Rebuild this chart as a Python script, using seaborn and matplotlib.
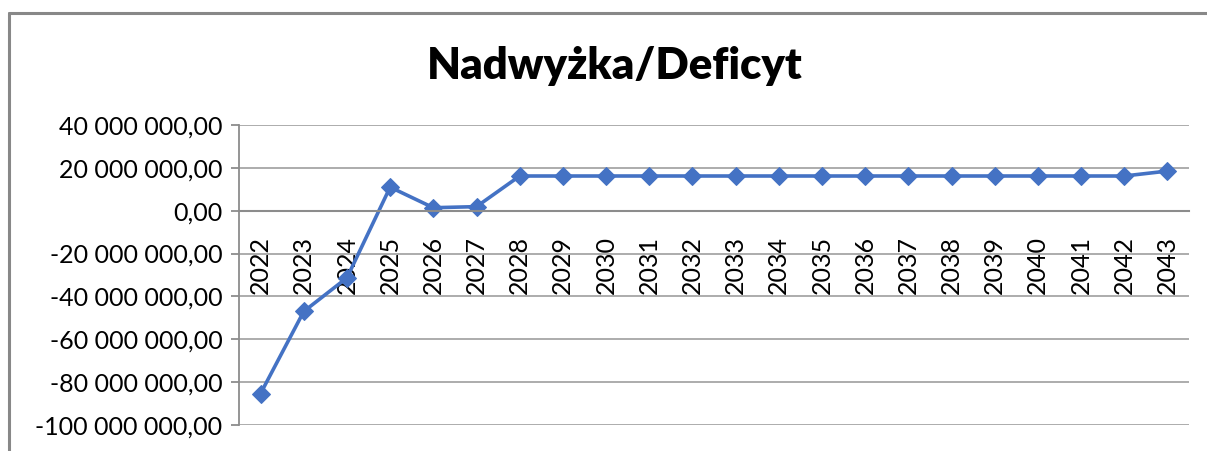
import matplotlib.pyplot as plt
import matplotlib as mpl
from matplotlib.lines import Line2D
from matplotlib.ticker import FuncFormatter
import numpy as np
import seaborn as sns

years = [str(y) for y in range(2022, 2044)]
values = [-85.3e6, -47.0e6, -31.3e6, 11.0e6, 1.4e6, 1.9e6,
          16.2e6, 16.2e6, 16.2e6, 16.2e6, 16.2e6, 16.2e6, 16.2e6, 16.2e6,
          16.2e6, 16.2e6, 16.2e6, 16.2e6, 16.2e6, 16.2e6, 16.2e6, 18.5e6]
title = "Nadwyżka/Deficyt"

sns.set_style("white")
plt.rcParams['font.family'] = ['Lato', 'DejaVu Sans']
plt.rcParams['text.color'] = 'black'

fig = plt.figure(figsize=(12.07, 4.51), dpi=100)
ax = fig.add_axes([239 / 1207, 1 - 425 / 451, 950 / 1207, 300 / 451])

x = np.arange(len(years))
sns.lineplot(x=x, y=values, ax=ax, color='#4472C4', linewidth=2.6,
             marker='D', markersize=9, markeredgecolor='#4472C4')

ax.set_xlim(-0.5, len(years) - 0.5)
ax.set_ylim(-100e6, 40e6)
ax.set_yticks(np.arange(-100e6, 40e6 + 1, 20e6))


def pl_fmt(v, pos):
    s = f"{abs(v):,.2f}".replace(",", " ").replace(".", ",")
    return ("-" if v < 0 else "") + s


ax.yaxis.set_major_formatter(FuncFormatter(pl_fmt))
ax.grid(axis='y', color='#a6a6a6', linewidth=1.3)
ax.set_axisbelow(True)

for s in ['top', 'right']:
    ax.spines[s].set_visible(False)
ax.spines['left'].set_color('#8c8c8c')
ax.spines['left'].set_linewidth(1.3)
ax.spines['bottom'].set_position(('data', 0))
ax.spines['bottom'].set_color('#8c8c8c')
ax.spines['bottom'].set_linewidth(1.5)

ax.set_xticks(x)
ax.set_xticklabels(years, rotation=90)
ax.set_xticks(np.arange(-0.5, len(years)), minor=True)
ax.tick_params(axis='x', which='major', length=0, pad=18, labelsize=18,
               labelcolor='black')
ax.tick_params(axis='x', which='minor', length=6, width=1.3, color='#8c8c8c',
               direction='out')
ax.tick_params(axis='y', length=6, width=1.3, color='#8c8c8c', pad=6,
               labelsize=18, left=True, labelcolor='black')

fig.text(0.509, 1 - 66 / 451, title, ha='center', va='center',
         fontsize=31.5, fontweight='heavy', color='black')

# outer chart frame (cut off at right and bottom)
fig.add_artist(Line2D([9 / 1207, 9 / 1207], [0, 1 - 13 / 451],
                      transform=fig.transFigure, color='#888888', linewidth=2.2))
fig.add_artist(Line2D([9 / 1207, 1], [1 - 13 / 451, 1 - 13 / 451],
                      transform=fig.transFigure, color='#888888', linewidth=2.2))

fig.savefig('out.png', dpi=100)
